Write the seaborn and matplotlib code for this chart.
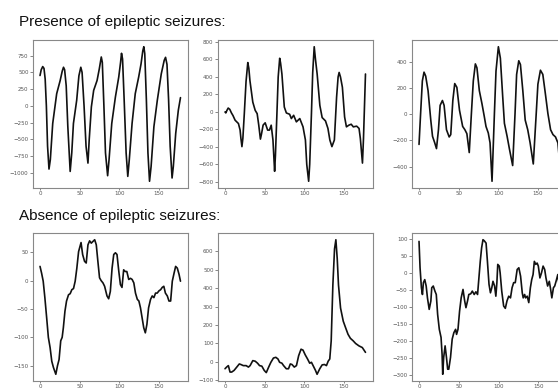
import matplotlib
matplotlib.use("Agg")
import matplotlib.pyplot as plt
import seaborn as sns

# -------------------- DATA --------------------

# presence of seizures, panel 1
p1_x = [0, 1.5, 3.4, 5, 6.5, 8, 9.5, 11.3, 13, 16, 21, 25.4, 28, 29.6, 31, 33, 35, 38, 40,
        42.1, 46.2, 49, 51.4, 53, 55.5, 58, 60.4, 62, 64.7, 67.6, 71.9, 74.7, 77.2, 78.5,
        80.5, 82.5, 85.2, 87, 90.4, 95, 99.2, 101.5, 102.7, 104, 106, 108.5, 110.6, 112.5,
        116, 120, 124.3, 127.3, 129.5, 130.8, 132, 134, 136, 138, 140, 143.5, 147.8, 152.8,
        156.5, 158.2, 160, 162, 164, 166.4, 168, 171, 174.3, 177]
p1_y = [454, 540, 587, 560, 400, 0, -600, -941, -800, -261, 183, 380, 520, 577, 540, 300,
        -300, -976, -700, -261, 84, 450, 577, 500, 0, -600, -852, -500, -14, 232, 380, 553,
        730, 650, 0, -700, -1040, -800, -261, 134, 430, 650, 785, 700, 100, -700, -1050,
        -800, -261, 183, 430, 627, 820, 883, 780, 100, -700, -1123, -900, -310, 84, 479,
        680, 725, 620, 100, -600, -1074, -900, -409, -63, 124]

# presence of seizures, panel 2
p2_x = [0, 1, 2.5, 4, 6, 8.1, 10, 12.7, 16.9, 19, 20, 21.3, 22.5, 24.3, 26.5, 28.7, 30,
        31.4, 35, 38, 40.5, 42.5, 44.6, 46, 48, 50.6, 53.7, 56, 58.2, 60.4, 62.5, 63.5,
        65.4, 67, 68.9, 70, 71.7, 74.7, 77.3, 81.4, 83.6, 86.5, 89.9, 94.2, 98.3, 101.3,
        103, 105.4, 106.7, 108.9, 110.5, 112.4, 114, 116.1, 119.5, 122.4, 126.6, 129.7,
        132.1, 134.7, 137.8, 140.6, 142.5, 143.8, 145.5, 147.9, 150.7, 153, 156, 159,
        161.7, 165.9, 168.9, 170.5, 173.2, 174.5, 177]
p2_y = [0, -11, 20, 45, 30, -11, -40, -94, -132, -207, -300, -396, -300, -19, 350, 565,
        500, 358, 113, 19, -19, -150, -310, -250, -150, -124, -207, -207, -151, -320, -678,
        -500, -19, 400, 614, 560, 434, 57, -11, -26, -75, -38, -113, -75, -170, -320, -600,
        -792, -600, -19, 450, 746, 600, 434, 75, -64, -102, -188, -320, -396, -320, 170,
        400, 452, 400, 283, -57, -170, -151, -140, -170, -162, -188, -300, -584, -300, 434]

# presence of seizures, panel 3
p3_x = [0, 2, 4.2, 6.3, 8.4, 11.4, 14.8, 17, 19.8, 22, 24.5, 26.6, 29.5, 31.6, 34.6, 38,
        40, 42.6, 45, 47.7, 51, 55, 57.8, 60.3, 63.3, 66, 68.4, 71, 73, 76, 79.3, 82.3,
        84.4, 87.3, 89.5, 92, 95, 97, 100, 102.5, 105.5, 107.6, 111, 114, 118, 121, 123,
        125.7, 127.8, 130.8, 133.8, 137, 140, 144, 147.7, 149.8, 153, 156, 159, 162.4,
        165.8, 168.8, 172, 175, 177]
p3_y = [-231, 5, 253, 320, 290, 179, -45, -169, -219, -263, -119, 67, 104, 67, -119, -174,
        -156, 104, 233, 204, 30, -94, -119, -149, -293, 5, 253, 383, 353, 179, 80, -20,
        -94, -144, -219, -512, 5, 328, 514, 427, 129, -70, -169, -268, -392, 5, 303, 407,
        378, 179, -45, -119, -219, -380, 5, 228, 335, 303, 166, 5, -119, -156, -174, -219,
        -355]

# absence of seizures, panel 4
a1_x = [0, 2, 4, 6.1, 8.4, 10.5, 12.7, 14.8, 16.9, 19.9, 22, 24, 26.1, 27.9, 29.4, 31.4,
        33.4, 35.9, 38, 40.1, 42.2, 44.3, 46.4, 48.6, 51.7, 53.7, 56.1, 58.2, 60.4, 62.5,
        64.6, 66.7, 68.9, 70.9, 72.9, 75, 77, 79.3, 81.4, 84.4, 86.5, 88.6, 90.8, 92.9, 95,
        97, 99.3, 101.3, 103.3, 105.4, 107.4, 109.4, 111.8, 114, 116.1, 118.2, 120.3,
        122.6, 124.6, 126.6, 128.7, 130.7, 132.7, 134.7, 136.8, 139.3, 141.4, 143.5,
        145.6, 147.7, 149.9, 152, 154, 156, 158, 160.4, 162.5, 164.6, 166.7, 168.9, 170.9,
        173, 175.2, 177]
a1_y = [25, 13, -1, -30, -66, -100, -118, -142, -153, -165, -150, -139, -106, -100, -83,
        -54, -36, -25, -23, -16, -14, -1, 22, 51, 67, 46, 34, 31, 63, 70, 66, 69, 72, 63,
        34, 5, 0, -4, -10, -27, -32, -19, 22, 46, 49, 46, 16, -7, -12, 19, 16, 16, 2, 4, 2,
        -4, -22, -33, -36, -48, -66, -83, -92, -77, -48, -33, -27, -30, -22, -22, -18, -16,
        -12, -10, -22, -27, -36, -36, -1, 13, 25, 22, 11, -1]

# absence of seizures, panel 5
a2_x = [0, 2, 4.2, 6.3, 8.4, 11.4, 14.8, 18, 20, 23, 26.6, 29.5, 31.6, 35, 38, 41, 43.5,
        46.4, 49.4, 52, 55, 57.8, 61, 64, 66.7, 68.8, 71.7, 73.8, 77.2, 80, 82.3, 84.4,
        87.3, 90, 92.8, 95.8, 98.3, 101, 104, 106.7, 108.9, 111, 114, 116, 119.4, 122.4,
        125.3, 127.8, 130, 132, 133.8, 135.9, 138, 139.7, 141.4, 143, 145.6, 149, 152, 155,
        158, 161.6, 164.6, 168.8, 173, 177]
a2_y = [-37, -28, -20, -55, -55, -46, -28, -11, -14, -20, -20, -28, -20, 7, 4, -7, -20,
        -23, -46, -58, -28, -2, 21, 25, 16, -2, -7, -20, -37, -37, -11, -14, -28, -20, 34,
        69, 64, 39, 16, -7, -2, -20, -46, -67, -37, -16, -14, -20, 4, 16, 114, 417, 613,
        663, 560, 417, 292, 221, 185, 150, 128, 114, 100, 87, 78, 52]

# absence of seizures, panel 6
a3_x = [0, 1.3, 3, 4.3, 5.5, 7.2, 9, 10.6, 12.8, 14.9, 16, 17.9, 20, 21.7, 23.4, 25.5,
        27.7, 29, 29.8, 31, 32.8, 34.5, 36, 37.4, 39.6, 41.7, 43.8, 46, 47.2, 49, 51, 53,
        55.3, 57.4, 59, 61, 62.6, 65, 67, 69.4, 71.5, 73.6, 75.3, 77, 78.7, 80.4, 82, 84.3,
        86, 88, 89.8, 91.5, 93, 95, 96.6, 97.9, 99, 100.9, 102, 104, 106.4, 108.5, 110.6,
        112.8, 115, 117, 119, 121, 123.4, 125.5, 127.7, 129.8, 131, 132.8, 134, 136, 138,
        140, 141.7, 143.4, 145, 146.8, 148.5, 150, 152, 154, 156, 158, 159.6, 161.7, 163.8,
        165.5, 167, 169, 170.6, 172.3, 174.5, 176.6]
a3_y = [94, 16, -43, -63, -28, -19, -38, -73, -107, -82, -43, -38, -53, -63, -122, -166,
        -190, -240, -299, -249, -215, -249, -284, -284, -249, -195, -176, -166, -181, -166,
        -112, -73, -48, -82, -102, -82, -63, -61, -53, -63, -55, -63, -14, 35, 75, 99, 96,
        89, 35, -33, -58, -43, -24, -38, -68, -28, 26, 21, 1, -53, -97, -104, -82, -68,
        -73, -43, -28, -28, 11, 16, -9, -58, -73, -63, -73, -68, -87, -43, -19, -4, 35, 26,
        30, 21, -14, 1, 21, 11, -14, -38, -24, -48, -73, -43, -38, -24, -4, -43]

row_titles = ["Presence of epileptic seizures:", "Absence of epileptic seizures:"]
series = [[(p1_x, p1_y), (p2_x, p2_y), (p3_x, p3_y)],
          [(a1_x, a1_y), (a2_x, a2_y), (a3_x, a3_y)]]

# -------------------- LAYOUT --------------------

W, H = 558, 390
col_left = [33, 218, 412]
ax_w = 154.5
row_top = [40, 233]
ax_h = 148

sns.set_style("ticks")
fig = plt.figure(figsize=(W / 100, H / 100), dpi=100)

for r in range(2):
    for c in range(3):
        x, y = series[r][c]
        left = col_left[c] / W
        bottom = (H - row_top[r] - ax_h) / H
        ax = fig.add_axes([left, bottom, ax_w / W, ax_h / H])
        sns.lineplot(x=x, y=y, ax=ax, color="#111111", linewidth=1.2)
        ax.set_xticks([0, 50, 100, 150])
        ax.tick_params(labelsize=4, length=2, width=0.5, colors="#555555", pad=1.2)
        ax.tick_params(axis="x", length=1.5, pad=0.6)
        for sp in ax.spines.values():
            sp.set_color("#888888")
            sp.set_linewidth(0.8)

for r, t in enumerate(row_titles):
    base = 26 if r == 0 else 220
    fig.text(19 / W, 1 - base / H, t, fontsize=11, family="Liberation Sans",
             color="#111111", va="baseline", ha="left")

fig.savefig("out.png", dpi=100, facecolor="white")
